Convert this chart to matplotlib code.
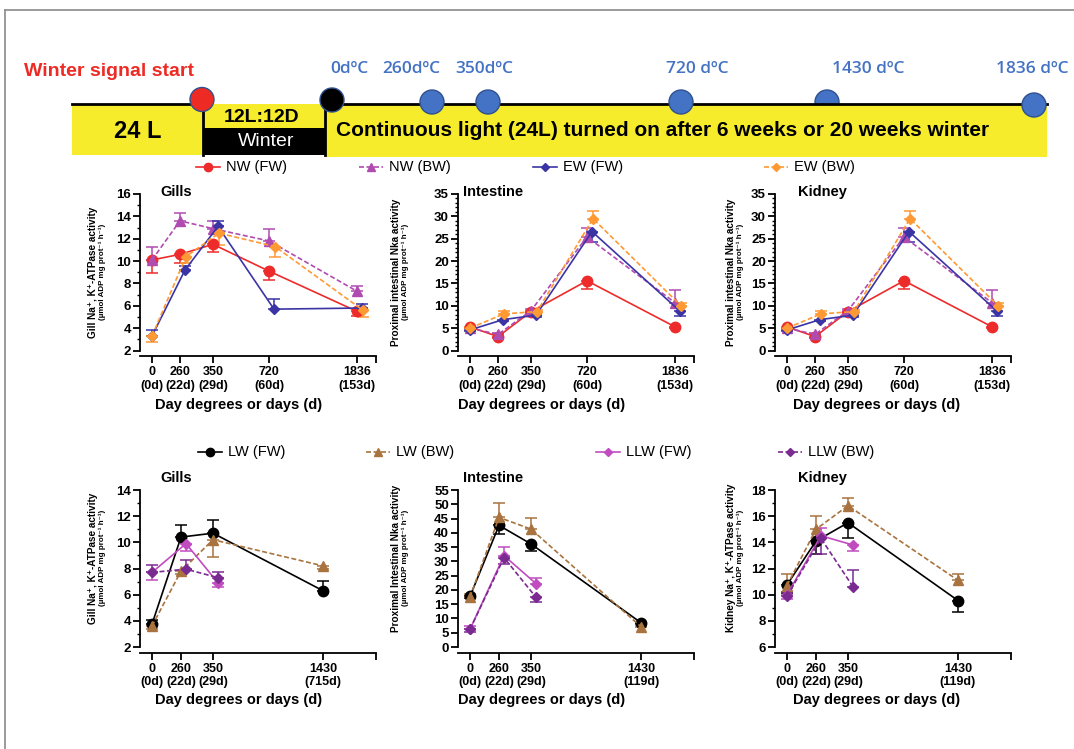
import matplotlib
matplotlib.use("Agg")
import matplotlib.pyplot as plt
import numpy as np
from matplotlib.patches import Rectangle, Circle
from matplotlib.ticker import MultipleLocator

# ---------------- data ----------------
top_ticklabels = ["0\n(0d)", "260\n(22d)", "350\n(29d)", "720\n(60d)", "1836\n(153d)"]
bot_ticklabels_gills = ["0\n(0d)", "260\n(22d)", "350\n(29d)", "1430\n(715d)"]
bot_ticklabels_other = ["0\n(0d)", "260\n(22d)", "350\n(29d)", "1430\n(119d)"]

top_series = ["NW (FW)", "NW (BW)", "EW (FW)", "EW (BW)"]
bot_series = ["LW (FW)", "LW (BW)", "LLW (FW)", "LLW (BW)"]

# Top gills: means and signed error (positive = bar above, negative = below)
gills_nw_fw = [10.1, 10.6, 11.5, 9.1, 5.5]
gills_nw_fw_err = [-1.2, -0.8, -0.7, -0.8, -0.45]
gills_nw_bw = [10.1, 13.6, 12.9, 11.8, 7.3]
gills_nw_bw_err = [1.2, 0.7, 0.7, 1.1, 0.5]
gills_ew_fw = [3.3, 9.2, 13.1, 5.7, 5.8]
gills_ew_fw_err = [0.5, 0.4, 0.5, 0.9, 0.35]
gills_ew_bw = [3.3, 10.4, 12.5, 11.3, 5.6]
gills_ew_bw_err = [-0.5, -0.6, -1.1, -0.9, -0.6]

# Top intestine (kidney panel shows the same values)
int_nw_fw = [5.3, 3.1, 8.7, 15.6, 5.3]
int_nw_fw_err = [-0.3, -0.3, -0.3, -1.8, -0.3]
int_nw_bw = [5.0, 3.6, 8.9, 25.4, 10.7]
int_nw_bw_err = [0.3, 0.3, 0.4, 2.0, 2.8]
int_ew_fw = [4.6, 6.9, 7.9, 26.6, 8.8]
int_ew_fw_err = [-0.3, -0.3, -0.3, -2.4, -1.1]
int_ew_bw = [5.0, 8.2, 8.7, 29.5, 10.0]
int_ew_bw_err = [0.3, 0.7, 0.3, 1.7, 0.7]

kid_nw_fw, kid_nw_fw_err = int_nw_fw, int_nw_fw_err
kid_nw_bw, kid_nw_bw_err = int_nw_bw, int_nw_bw_err
kid_ew_fw, kid_ew_fw_err = int_ew_fw, int_ew_fw_err
kid_ew_bw, kid_ew_bw_err = int_ew_bw, int_ew_bw_err

# Bottom gills
bg_lw_fw = [3.75, 10.4, 10.7, 6.3]
bg_lw_fw_err = [0.35, 0.9, 1.0, 0.75]
bg_lw_bw = [3.6, 7.8, 10.2, 8.2]
bg_lw_bw_err = [-0.25, -0.2, -1.3, -0.2]
bg_llw_fw = [7.7, 9.9, 6.9]
bg_llw_fw_err = [-0.6, -0.6, -0.35]
bg_llw_bw = [7.7, 7.95, 7.3]
bg_llw_bw_err = [0.6, 0.7, 0.45]

# Bottom intestine
bi_lw_fw = [17.7, 42.6, 36.1, 8.5]
bi_lw_fw_err = [-0.7, -3.0, -2.4, -0.5]
bi_lw_bw = [17.5, 45.4, 41.3, 7.1]
bi_lw_bw_err = [1.0, 4.9, 3.9, 0.5]
bi_llw_fw = [6.2, 32.0, 22.2]
bi_llw_fw_err = [1.1, 3.0, 1.9]
bi_llw_bw = [6.2, 31.3, 17.4]
bi_llw_bw_err = [-0.9, -2.3, -1.8]

# Bottom kidney
bk_lw_fw = [10.75, 14.1, 15.5, 9.55]
bk_lw_fw_err = [-0.6, -1.0, -1.2, -0.85]
bk_lw_bw = [10.7, 15.0, 16.8, 11.1]
bk_lw_bw_err = [0.85, 1.0, 0.6, 0.5]
bk_llw_fw = [10.0, 14.5, 13.8]
bk_llw_fw_err = [-0.3, 0.6, -0.5]
bk_llw_bw = [9.9, 14.3, 10.6]
bk_llw_bw_err = [0.3, -1.2, 1.3]

# timeline labels
timeline_labels = ["0dºC", "260dºC", "350dºC", "720 dºC", "1430 dºC", "1836 dºC"]

# ---------------- style / layout ----------------
W, H = 1074, 749
SANS = ["Liberation Sans", "DejaVu Sans"]
plt.rcParams["font.family"] = SANS

top_pos = [12, 40, 73, 129, 217]
bot_pos = [12, 41, 73, 183]
XMAX = 236

top_styles = [
    dict(color="#ee2b2b", marker="o", ms=7.5, ls="-", off=0),
    dict(color="#b04bb0", marker="^", ms=6.5, ls=(0, (3, 1.5)), off=0),
    dict(color="#3b34a5", marker="D", ms=5, ls="-", off=5),
    dict(color="#ff9933", marker="D", ms=5, ls=(0, (3, 1.5)), off=6),
]
bot_styles = [
    dict(color="#000000", marker="o", ms=7.5, ls="-", off=0),
    dict(color="#a8733f", marker="^", ms=6.5, ls=(0, (3, 1.5)), off=0),
    dict(color="#c04cc0", marker="D", ms=5, ls="-", off=5),
    dict(color="#7b2a92", marker="D", ms=5, ls=(0, (3, 1.5)), off=5),
]

fig = plt.figure(figsize=(W / 100, H / 100), dpi=100)

# background overlay in pixel coordinates
bg = fig.add_axes([0, 0, 1, 1], zorder=0)
bg.set_xlim(0, W)
bg.set_ylim(H, 0)
bg.axis("off")

# frame
bg.plot([5, 5], [10, H + 5], color="#8a8a8a", lw=1.2)
bg.plot([5, W + 5], [10, 10], color="#8a8a8a", lw=1.2)

# ----- banner -----
yellow = "#f7ec2c"
bg.add_patch(Circle((827, 102), 12, facecolor="#4472c4", edgecolor="#2f528f", lw=1, zorder=1))
bg.add_patch(Rectangle((72, 104), 203 - 72, 51, facecolor=yellow, edgecolor="none", zorder=2))
bg.add_patch(Rectangle((203, 104), 122, 24, facecolor=yellow, edgecolor="none", zorder=2))
bg.add_patch(Rectangle((203, 128), 122, 27, facecolor="black", edgecolor="none", zorder=2))
bg.add_patch(Rectangle((325, 104), 1047 - 325, 53, facecolor=yellow, edgecolor="none", zorder=2))
bg.plot([72, 203], [104, 104], color="black", lw=2, zorder=3)
bg.plot([325, 1047], [104, 104], color="black", lw=2, zorder=3)
bg.plot([203, 203], [104, 155], color="black", lw=2, zorder=3)
bg.plot([325, 325], [104, 155], color="black", lw=2, zorder=3)
bg.add_patch(Circle((202, 99.5), 12, facecolor="#ee2a24", edgecolor="#2f528f", lw=1, zorder=4))
bg.add_patch(Circle((332, 100), 12, facecolor="black", edgecolor="#2f528f", lw=1, zorder=4))
for cx, cy in [(432, 102), (488, 102), (681, 102), (1034, 105)]:
    bg.add_patch(Circle((cx, cy), 12, facecolor="#4472c4", edgecolor="#2f528f", lw=1, zorder=4))

bg.text(24, 72, "Winter signal start", color="#ee2a24", fontsize=14, fontweight="bold",
        ha="left", va="center")
bg.text(138, 131, "24 L", fontsize=17, fontweight="bold", ha="center", va="center", zorder=5)
bg.text(262, 117, "12L:12D", fontsize=14, fontweight="bold", ha="center", va="center", zorder=5)
bg.text(266, 142, "Winter", fontsize=14, color="white", ha="center", va="center", zorder=5)
bg.text(663, 131, "Continuous light (24L) turned on after 6 weeks or 20 weeks winter",
        fontsize=15, fontweight="bold", ha="center", va="center", zorder=5)
for lab, cx in zip(timeline_labels, [349, 411, 484, 697, 868, 1032]):
    bg.text(cx, 69, lab, color="#4472c4", fontsize=12.5, fontweight="semibold",
            family=["Open Sans", "DejaVu Sans"], ha="center", va="center")


# ----- legends (drawn in overlay) -----
def legend_entry(x, y, label, st):
    bg.plot([x - 12, x + 12], [y, y], color=st["color"], ls=st["ls"], lw=1.2)
    bg.plot([x], [y], marker=st["marker"], color=st["color"], ms=st["ms"] * 0.8, ls="none")
    bg.text(x + 18, y, label, fontsize=10.5, ha="left", va="center")


for lab, st, x in zip(top_series, top_styles, [208, 371, 545, 776]):
    legend_entry(x, 167, lab, st)
for lab, st, x in zip(bot_series, bot_styles, [210, 378, 608, 790]):
    legend_entry(x, 452, lab, st)


# ----- panels -----
def make_ax(x0, y0, y1):
    return fig.add_axes([x0 / W, 1 - y1 / H, XMAX / W, (y1 - y0) / H], zorder=2)


def draw_series(ax, pos, vals, errs, st):
    n = len(vals)
    x = np.array([p + (st["off"] if i > 0 else 0) for i, p in enumerate(pos[:n])], dtype=float)
    v = np.array(vals, dtype=float)
    e = np.array(errs, dtype=float)
    lower = np.where(e < 0, -e, 0)
    upper = np.where(e > 0, e, 0)
    ax.errorbar(x, v, yerr=[lower, upper], color=st["color"], ls=st["ls"], lw=1.2,
                marker=st["marker"], ms=st["ms"], capsize=4.5, elinewidth=1.1,
                capthick=1.1, clip_on=False)


def style_ax(ax, pos, ticklabels, ylo, yhi, major, minor, title, ylab1, ylab2, px, py_title, lab_y):
    ax.set_xlim(0, XMAX)
    ax.set_ylim(ylo, yhi)
    ax.spines["top"].set_visible(False)
    ax.spines["right"].set_visible(False)
    ax.spines["bottom"].set_position(("outward", 4.3))
    for s in ["left", "bottom"]:
        ax.spines[s].set_linewidth(1.3)
    ax.yaxis.set_major_locator(MultipleLocator(major))
    if minor:
        ax.yaxis.set_minor_locator(MultipleLocator(minor))
    ax.set_xticks(list(pos) + [XMAX])
    ax.set_xticklabels(list(ticklabels) + [""], fontsize=9, fontweight="bold", linespacing=1.2)
    ax.tick_params(axis="x", length=5, width=1.3, pad=2)
    ax.tick_params(axis="y", which="major", length=5, width=1.3, labelsize=9.5, pad=1.5)
    ax.tick_params(axis="y", which="minor", length=2.5, width=1.0)
    for t in ax.get_yticklabels():
        t.set_fontweight("bold")
    ax.patch.set_alpha(0)
    # title
    fig.text((px + 20) / W, 1 - py_title / H, title, fontsize=10.5, fontweight="bold",
             ha="left", va="center")
    # y labels
    fig.text((px - 47) / W, 1 - (py_title + 80) / H, ylab1, rotation=90, fontsize=7.2,
             fontweight="bold", ha="center", va="center")
    fig.text((px - 38) / W, 1 - (py_title + 80) / H, ylab2, rotation=90, fontsize=5.8,
             fontweight="bold", ha="center", va="center")
    # x label
    fig.text((px + 99) / W, 1 - lab_y / H, "Day degrees or days (d)", fontsize=10.5,
             fontweight="bold", ha="center", va="center")


gill_lab1 = "Gill Na⁺, K⁺-ATPase activity"
unit_lab = "(µmol ADP mg prot⁻¹ h⁻¹)"
int_lab1 = "Proximal intestinal Nka activity"
int_lab1b = "Proximal Intestinal Nka activity"
kid_lab1 = "Kidney Na⁺, K⁺-ATPase activity"

# top row
ax1 = make_ax(140, 194, 350.5)
for vals, errs, st in zip([gills_nw_fw, gills_nw_bw, gills_ew_fw, gills_ew_bw],
                          [gills_nw_fw_err, gills_nw_bw_err, gills_ew_fw_err, gills_ew_bw_err],
                          top_styles):
    draw_series(ax1, top_pos, vals, errs, st)
style_ax(ax1, top_pos, top_ticklabels, 2, 16, 2, 1, "Gills", gill_lab1, unit_lab, 140, 192, 405)

ax2 = make_ax(458, 194, 350.5)
for vals, errs, st in zip([int_nw_fw, int_nw_bw, int_ew_fw, int_ew_bw],
                          [int_nw_fw_err, int_nw_bw_err, int_ew_fw_err, int_ew_bw_err],
                          top_styles):
    draw_series(ax2, top_pos, vals, errs, st)
style_ax(ax2, top_pos, top_ticklabels, 0, 35, 5, 1, "Intestine", int_lab1, unit_lab, 443, 192, 405)

ax3 = make_ax(775, 194, 350.5)
for vals, errs, st in zip([kid_nw_fw, kid_nw_bw, kid_ew_fw, kid_ew_bw],
                          [kid_nw_fw_err, kid_nw_bw_err, kid_ew_fw_err, kid_ew_bw_err],
                          top_styles):
    draw_series(ax3, top_pos, vals, errs, st)
style_ax(ax3, top_pos, top_ticklabels, 0, 35, 5, 1, "Kidney", int_lab1, unit_lab, 778, 192, 405)

# bottom row
ax4 = make_ax(140, 490, 647)
for vals, errs, st in zip([bg_lw_fw, bg_lw_bw, bg_llw_fw, bg_llw_bw],
                          [bg_lw_fw_err, bg_lw_bw_err, bg_llw_fw_err, bg_llw_bw_err],
                          bot_styles):
    draw_series(ax4, bot_pos, vals, errs, st)
style_ax(ax4, bot_pos, bot_ticklabels_gills, 2, 14, 2, 1, "Gills", gill_lab1, unit_lab, 140, 478, 700)

ax5 = make_ax(458, 490, 647)
for vals, errs, st in zip([bi_lw_fw, bi_lw_bw, bi_llw_fw, bi_llw_bw],
                          [bi_lw_fw_err, bi_lw_bw_err, bi_llw_fw_err, bi_llw_bw_err],
                          bot_styles):
    draw_series(ax5, bot_pos, vals, errs, st)
style_ax(ax5, bot_pos, bot_ticklabels_other, 0, 55, 5, None, "Intestine", int_lab1b, unit_lab, 443, 478, 700)

ax6 = make_ax(775, 490, 647)
for vals, errs, st in zip([bk_lw_fw, bk_lw_bw, bk_llw_fw, bk_llw_bw],
                          [bk_lw_fw_err, bk_lw_bw_err, bk_llw_fw_err, bk_llw_bw_err],
                          bot_styles):
    draw_series(ax6, bot_pos, vals, errs, st)
style_ax(ax6, bot_pos, bot_ticklabels_other, 6, 18, 2, 1, "Kidney", kid_lab1, unit_lab, 778, 478, 700)

fig.savefig("out.png", dpi=100)
